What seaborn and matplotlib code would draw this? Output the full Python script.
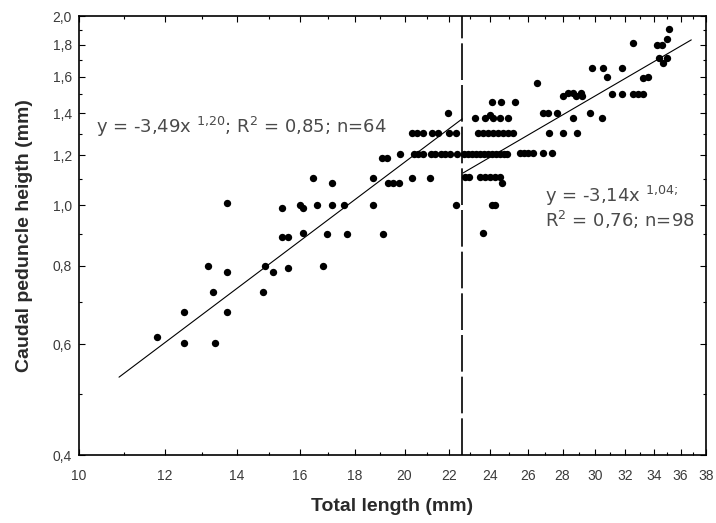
import numpy as np
import pandas as pd
import matplotlib
matplotlib.use("Agg")
import matplotlib.pyplot as plt
import seaborn as sns
from matplotlib.ticker import FixedLocator, FixedFormatter, NullFormatter

sns.set_theme(style="white")
plt.rcParams["font.family"] = ["Liberation Sans", "DejaVu Sans"]
plt.rcParams["mathtext.fontset"] = "custom"
plt.rcParams["mathtext.rm"] = "DejaVu Sans"
plt.rcParams["mathtext.it"] = "DejaVu Sans"

# ---- data: juveniles (left of break) ----
left_x = [11.8, 12.5, 12.5, 13.15, 13.3, 13.35, 13.7, 13.7, 13.7, 14.8, 14.85, 15.1,
          15.6, 16.8, 15.4, 15.4, 15.6, 16.0, 16.1, 16.1, 16.45, 16.6, 16.95, 17.15,
          17.15, 17.6, 17.7, 18.7, 18.7, 19.1, 19.3, 19.5, 19.75, 19.05, 19.25, 19.8,
          20.3, 21.1, 20.3, 20.55, 20.8, 21.2, 21.5, 22.0, 22.3, 21.95, 20.4, 20.6,
          20.8, 21.15, 21.35, 21.6, 21.8, 22.05, 22.35, 22.3]
left_y = [0.617, 0.676, 0.603, 0.80, 0.727, 0.603, 0.782, 0.676, 1.007, 0.727, 0.80, 0.782,
          0.795, 0.80, 0.99, 0.889, 0.889, 1.0, 0.99, 0.903, 1.104, 1.0, 0.90, 1.085,
          1.0, 1.0, 0.90, 1.104, 1.0, 0.90, 1.085, 1.085, 1.085, 1.19, 1.19, 1.206,
          1.104, 1.104, 1.303, 1.303, 1.303, 1.303, 1.303, 1.303, 1.303, 1.40, 1.206, 1.206,
          1.206, 1.206, 1.206, 1.206, 1.206, 1.206, 1.206, 1.0]

# ---- data: adults (right of break) ----
right_x = [22.7, 22.9, 23.1, 23.3, 23.5, 23.7, 23.9, 24.1, 24.3, 24.5, 24.7, 24.9,
           25.6, 25.8, 26.0, 26.3, 26.85, 27.35,
           23.4, 23.65, 23.9, 24.15, 24.4, 24.66, 24.93, 25.2, 27.2, 28.0, 28.9,
           23.25, 23.75, 24.0, 24.15, 24.5, 24.93,
           24.1, 24.55, 25.3,
           22.75, 22.95, 23.5, 23.75, 24.0, 24.25, 24.5, 24.6,
           24.1, 24.25, 23.65,
           26.5, 26.85, 27.15, 27.7, 28.6, 28.0, 28.3, 28.6, 28.8, 29.1, 29.2,
           29.7, 30.45, 29.8, 30.5, 30.8, 31.8, 31.1, 31.8, 32.5, 32.85, 33.2,
           33.25, 33.6, 32.5, 34.25, 34.6, 35.0, 35.1, 34.4, 34.7, 35.0]
right_y = [1.206, 1.206, 1.206, 1.206, 1.206, 1.206, 1.206, 1.206, 1.206, 1.206, 1.206, 1.206,
           1.21, 1.21, 1.21, 1.21, 1.21, 1.21,
           1.303, 1.303, 1.303, 1.303, 1.303, 1.303, 1.303, 1.303, 1.303, 1.303, 1.303,
           1.377, 1.377, 1.391, 1.377, 1.377, 1.377,
           1.459, 1.459, 1.459,
           1.109, 1.109, 1.109, 1.109, 1.109, 1.109, 1.109, 1.085,
           1.0, 1.0, 0.903,
           1.565, 1.40, 1.40, 1.40, 1.377, 1.49, 1.51, 1.51, 1.49, 1.51, 1.49,
           1.40, 1.377, 1.653, 1.653, 1.60, 1.653, 1.503, 1.503, 1.50, 1.50, 1.50,
           1.593, 1.60, 1.81, 1.798, 1.798, 1.839, 1.906, 1.715, 1.683, 1.715]

# power-law fits y = c * x^b over their x ranges
fit1_c, fit1_b, fit1_x = 0.0241, 1.296, (10.89, 22.61)
fit2_c, fit2_b, fit2_x = 0.04904, 1.004, (22.66, 36.83)
break_x = 22.6

x_major = list(range(10, 39, 2))
x_minor = list(range(11, 38, 2))
y_major = [0.4, 0.6, 0.8, 1.0, 1.2, 1.4, 1.6, 1.8, 2.0]
y_major_labels = ["0,4", "0,6", "0,8", "1,0", "1,2", "1,4", "1,6", "1,8", "2,0"]
y_minor = [0.5, 0.7, 0.9, 1.1, 1.3, 1.5, 1.7, 1.9]

eq1 = r"y = -3,49x $^{1{,}20}$; R$^{2}$ = 0,85; n=64"
eq2a = r"y = -3,14x $^{1{,}04;}$"
eq2b = r"R$^{2}$ = 0,76; n=98"
xlabel = "Total length (mm)"
ylabel = "Caudal peduncle heigth (mm)"

pts = pd.DataFrame({"x": left_x + right_x, "y": left_y + right_y})

fig = plt.figure(figsize=(7.16, 5.23), dpi=100)
ax = fig.add_axes([0.1103, 0.13, 0.8757, 0.8394])
ax.set_xscale("log")
ax.set_yscale("log")

sns.scatterplot(data=pts, x="x", y="y", ax=ax, color="black", s=28,
                marker="o", linewidth=0, zorder=3)

for c, b, (x0, x1) in [(fit1_c, fit1_b, fit1_x), (fit2_c, fit2_b, fit2_x)]:
    xs = np.geomspace(x0, x1, 50)
    sns.lineplot(x=xs, y=c * xs ** b, ax=ax, color="black", lw=0.8, zorder=2)

ax.axvline(break_x, color="black", lw=1.2, ls=(0, (22, 3)), zorder=2)

ax.set_xlim(10, 38)
ax.set_ylim(0.4, 2.0)
ax.xaxis.set_major_locator(FixedLocator(x_major))
ax.xaxis.set_major_formatter(FixedFormatter([str(v) for v in x_major]))
ax.xaxis.set_minor_locator(FixedLocator(x_minor))
ax.xaxis.set_minor_formatter(NullFormatter())
ax.yaxis.set_major_locator(FixedLocator(y_major))
ax.yaxis.set_major_formatter(FixedFormatter(y_major_labels))
ax.yaxis.set_minor_locator(FixedLocator(y_minor))
ax.yaxis.set_minor_formatter(NullFormatter())

ax.tick_params(which="both", direction="in", top=True, right=True,
               bottom=True, left=True, color="black", width=0.8)
ax.tick_params(which="major", length=4, labelsize=10, labelcolor="#3a3a3a", pad=5)
ax.tick_params(axis="x", which="major", pad=10)
ax.tick_params(which="minor", length=2.5)

for sp in ax.spines.values():
    sp.set_color("black")
    sp.set_linewidth(1.2)

ax.set_xlabel(xlabel, fontsize=14, fontweight="bold", color="#2a2a2a", labelpad=11)
ax.set_ylabel(ylabel, fontsize=14, fontweight="bold", color="#2a2a2a", labelpad=14)

tkw = dict(transform=ax.transAxes, fontsize=13, color="#4a4a4a",
           family=["DejaVu Sans"], va="baseline", ha="left")
ax.text(0.027, 0.733, eq1, **tkw)
ax.text(0.743, 0.576, eq2a, **tkw)
ax.text(0.743, 0.519, eq2b, **tkw)

ax.grid(False)
fig.savefig("out.png", dpi=100)
